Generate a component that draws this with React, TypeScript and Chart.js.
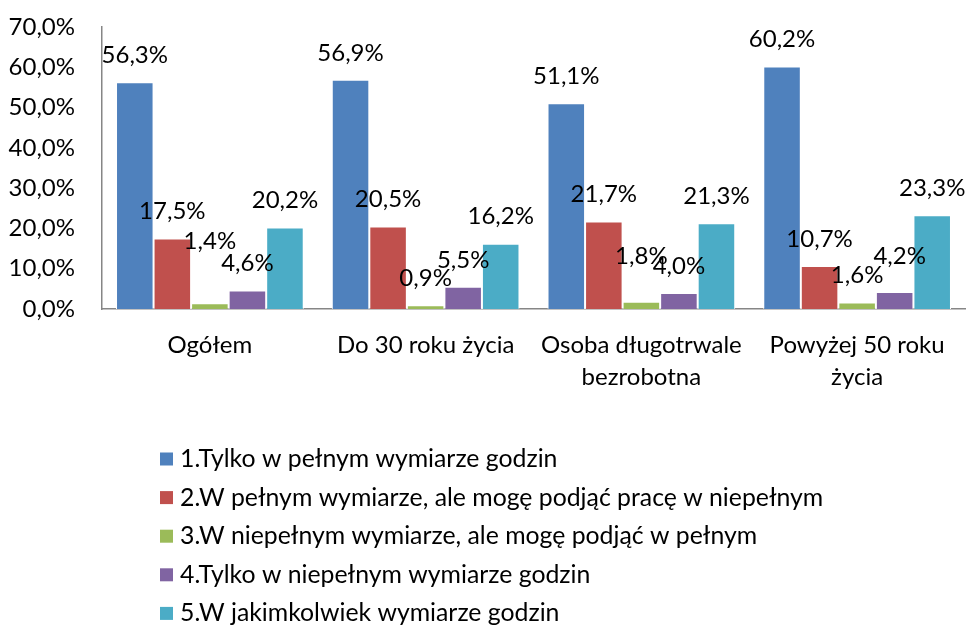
import React, { useEffect, useRef } from 'react';
import { Chart, registerables } from 'chart.js';

Chart.register(...registerables);

const categories: string[][] = [
  ['Ogółem'],
  ['Do 30 roku życia'],
  ['Osoba długotrwale', 'bezrobotna'],
  ['Powyżej 50 roku', 'życia'],
];

const seriesNames = [
  '1.Tylko w pełnym wymiarze godzin',
  '2.W pełnym wymiarze, ale mogę podjąć pracę w niepełnym',
  '3.W niepełnym wymiarze, ale mogę podjąć w pełnym',
  '4.Tylko w niepełnym wymiarze godzin',
  '5.W jakimkolwiek wymiarze godzin',
];

const series1 = [56.3, 56.9, 51.1, 60.2];
const series2 = [17.5, 20.5, 21.7, 10.7];
const series3 = [1.4, 0.9, 1.8, 1.6];
const series4 = [4.6, 5.5, 4.0, 4.2];
const series5 = [20.2, 16.2, 21.3, 23.3];

const yMin = 0;
const yMax = 70;
const yStep = 10;

const colors = ['#4F81BD', '#C0504D', '#9BBB59', '#8064A2', '#4BACC6'];

const FONT = 'Lato, Carlito, Calibri, "Open Sans", sans-serif';
const FS = 24;
const LEGEND_FS = 24.8;

// label placement tweaks (style only): [datasetIndex-dataIndex] -> [dx, extra lift]
const labelNudge: Record<string, [number, number]> = {
  '2-0': [0, 35],
  '2-2': [0, 18],
  '3-3': [5, 9],
};

const fmt = (v: number) => v.toFixed(1).replace('.', ',') + '%';

const dataLabelPlugin = {
  id: 'dataLabels',
  afterDatasetsDraw(chart: any) {
    const ctx = chart.ctx;
    ctx.save();
    ctx.font = `${FS}px ${FONT}`;
    ctx.fillStyle = '#000';
    ctx.textAlign = 'center';
    ctx.textBaseline = 'middle';
    chart.data.datasets.forEach((ds: any, di: number) => {
      const meta = chart.getDatasetMeta(di);
      meta.data.forEach((bar: any, i: number) => {
        const n = labelNudge[`${di}-${i}`] || [0, 0];
        ctx.fillText(fmt(ds.data[i]), bar.x + n[0], bar.y - 27 - n[1]);
      });
    });
    ctx.restore();
  },
};

const legendPlugin = {
  id: 'vertLegend',
  afterDraw(chart: any) {
    const ctx = chart.ctx;
    ctx.save();
    ctx.font = `${LEGEND_FS}px ${FONT}`;
    ctx.textAlign = 'left';
    ctx.textBaseline = 'middle';
    chart.data.datasets.forEach((ds: any, i: number) => {
      const y = 459 + i * 38.6;
      ctx.fillStyle = ds.backgroundColor;
      ctx.fillRect(160, y - 6.5, 13, 13);
      ctx.fillStyle = '#000';
      ctx.fillText(ds.label, 180, y);
    });
    ctx.restore();
  },
};

export default function App() {
  const ref = useRef<HTMLCanvasElement>(null);
  useEffect(() => {
    document.body.style.margin = '0';
    const seriesData = [series1, series2, series3, series4, series5];
    const chart = new Chart(ref.current!, {
      type: 'bar',
      data: {
        labels: categories,
        datasets: seriesData.map((d, i) => ({
          label: seriesNames[i],
          data: d,
          backgroundColor: colors[i],
          borderColor: '#FFFFFF',
          borderWidth: 1,
          barPercentage: 1,
          categoryPercentage: 0.87,
        })),
      },
      options: {
        responsive: false,
        animation: false,
        layout: { padding: { top: 27, right: 2, bottom: 0, left: 0 } },
        plugins: {
          legend: { display: false },
          tooltip: { enabled: false },
        },
        scales: {
          x: {
            grid: { display: false, drawTicks: false },
            border: { display: true, color: '#868686', width: 1.5 },
            ticks: {
              color: '#000',
              font: { family: FONT, size: FS, lineHeight: 1.333 },
              padding: 20,
              maxRotation: 0,
              autoSkip: false,
            },
            afterFit: (scale: any) => {
              scale.height = 317;
              scale.paddingLeft = 0;
              scale.paddingRight = 0;
            },
          },
          y: {
            min: yMin,
            max: yMax,
            grid: { display: false, drawTicks: false },
            border: { display: true, color: '#868686', width: 1.5 },
            ticks: {
              stepSize: yStep,
              color: '#000',
              padding: 27,
              font: { family: FONT, size: FS },
              callback: (v: any) => fmt(Number(v)),
            },
            afterFit: (scale: any) => {
              scale.width = 102;
              scale.paddingTop = 0;
              scale.paddingBottom = 0;
            },
          },
        },
      },
      plugins: [dataLabelPlugin, legendPlugin],
    });
    return () => chart.destroy();
  }, []);
  return (
    <div style={{ width: 967, height: 626, background: '#fff' }}>
      <canvas ref={ref} width={967} height={626} />
    </div>
  );
}
